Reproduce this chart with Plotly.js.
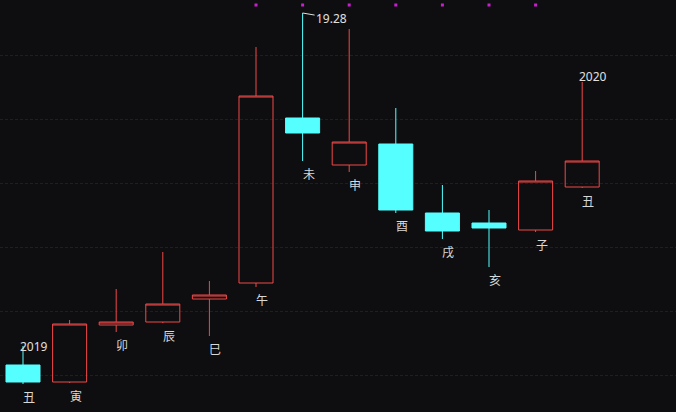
<!DOCTYPE html>
<html>
<head>
<meta charset="utf-8">
<script src="https://cdn.plot.ly/plotly-3.0.1.min.js"></script>
<style>
html,body{margin:0;padding:0;background:#0e0e10;}
#chart{width:676px;height:412px;}
</style>
</head>
<body>
<div id="chart"></div>
<script>
// Earthly-branch month labels
const labels = ['丑','寅','卯','辰','巳','午','未','申','酉','戌','亥','子','丑'];
const openP  = [8.72, 8.21, 9.92, 10.01, 10.70, 11.18, 16.13, 14.72, 15.35, 13.28, 12.98, 12.77, 14.06];
const highP  = [9.29, 10.07, 11.00, 12.11, 11.24, 18.26, 19.28, 18.80, 16.43, 14.12, 13.37, 14.54, 17.21];
const lowP   = [8.15, 8.18, 9.71, 9.98, 9.59, 11.06, 14.84, 14.51, 13.28, 12.50, 11.66, 12.71, 14.03];
const closeP = [8.21, 9.95, 10.01, 10.55, 10.82, 16.79, 15.68, 15.41, 13.37, 12.74, 12.83, 14.24, 14.84];
// Year markers
const yearIdx = [0, 12];
const yearText = ['2019', '2020'];
// Top signal dots
const signalIdx = [5, 6, 7, 8, 9, 10, 11];
const signalLevel = [19.52, 19.52, 19.52, 19.52, 19.52, 19.52, 19.52];
// Grid levels
const gridLevels = [8.42, 10.34, 12.26, 14.18, 16.10, 18.02];

const xIdx = labels.map((_, i) => i);
const RED = '#f04848', CYAN = '#55ffff';

const traces = [
  {
    type: 'candlestick',
    x: xIdx, open: openP, high: highP, low: lowP, close: closeP,
    increasing: {line: {color: RED, width: 1}, fillcolor: 'rgba(0,0,0,0)'},
    decreasing: {line: {color: CYAN, width: 1}, fillcolor: CYAN},
    whiskerwidth: 0,
    hoverinfo: 'skip',
    showlegend: false
  },
  {
    type: 'scatter', mode: 'markers',
    x: signalIdx, y: signalLevel,
    marker: {symbol: 'square', size: 3, color: '#c81ecf'},
    hoverinfo: 'skip', showlegend: false
  }
];

const annotations = [];
labels.forEach((t, i) => {
  annotations.push({
    x: i, y: lowP[i], xref: 'x', yref: 'y', text: t, showarrow: false,
    yanchor: 'top', xanchor: 'center', xshift: 6, yshift: -2,
    font: {family: 'Noto Sans CJK SC', size: 12, color: '#d8d8d8'}
  });
});
yearIdx.forEach((idx, k) => {
  annotations.push({
    x: idx, y: highP[idx], xref: 'x', yref: 'y', text: yearText[k], showarrow: false,
    yanchor: 'bottom', xanchor: 'center', xshift: 11, yshift: k === 0 ? -11 : -5,
    font: {family: 'Noto Sans', size: 12, color: '#e0e0e0'}
  });
});
// max price annotation
const maxI = highP.indexOf(Math.max(...highP));
annotations.push({
  x: maxI, y: highP[maxI], xref: 'x', yref: 'y', text: highP[maxI].toFixed(2),
  showarrow: true, arrowhead: 0, arrowwidth: 1, arrowcolor: '#e0e0e0',
  ax: 29, ay: 5, standoff: 0, xanchor: 'center',
  font: {family: 'Noto Sans', size: 12, color: '#e0e0e0'}
});

const layout = {
  width: 676, height: 412,
  margin: {l: 0, r: 0, t: 0, b: 0},
  paper_bgcolor: '#0e0e10', plot_bgcolor: '#0e0e10',
  boxgap: 0.27, boxgroupgap: 0,
  xaxis: {
    range: [-0.4936, 14.013], showgrid: false, zeroline: false,
    showticklabels: false, showline: false, ticks: '',
    rangeslider: {visible: false}, fixedrange: true
  },
  yaxis: {
    range: [7.31, 19.67], showgrid: true, gridcolor: '#3a1218', griddash: '3px,2px',
    gridwidth: 1, tickmode: 'array', tickvals: gridLevels,
    zeroline: false, showticklabels: false, showline: false, ticks: '', fixedrange: true
  },
  annotations: annotations,
  showlegend: false
};

Plotly.newPlot('chart', traces, layout, {staticPlot: true, displayModeBar: false});
</script>
</body>
</html>
